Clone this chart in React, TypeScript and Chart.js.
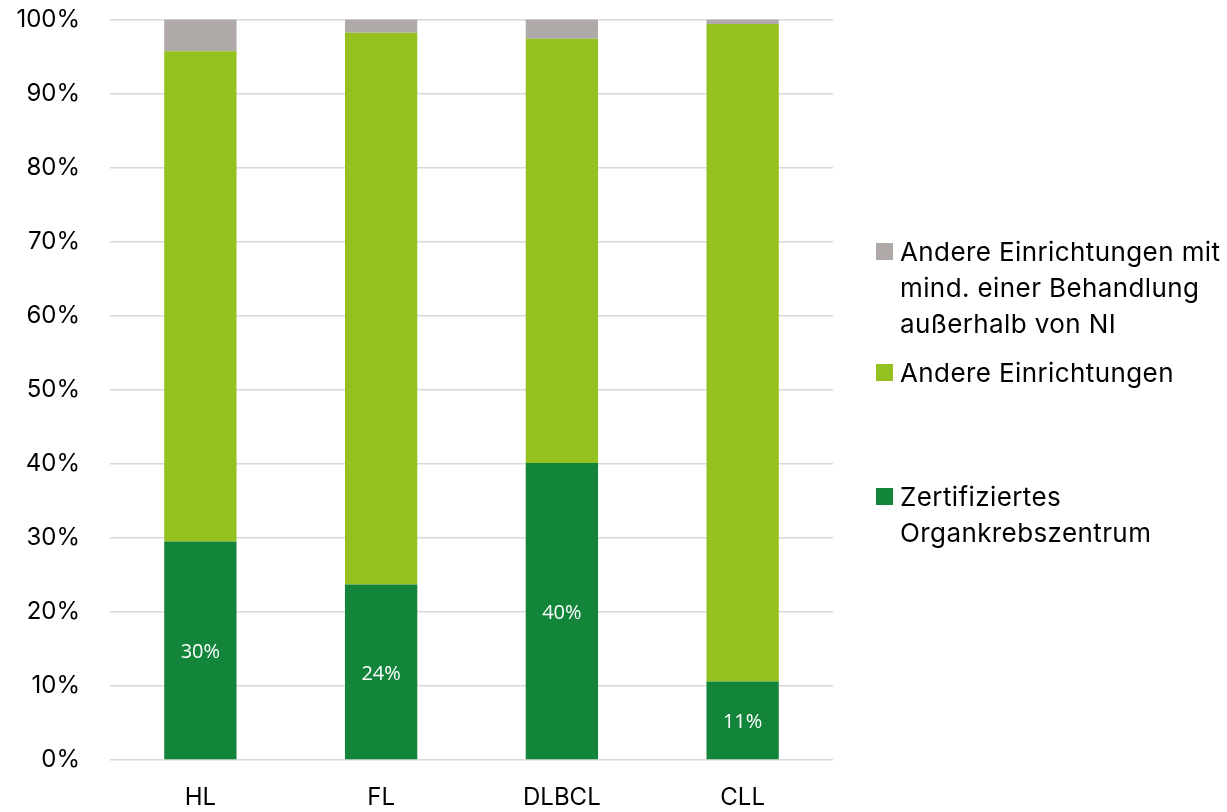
import React, { useEffect, useRef } from "react";
import { Chart, registerables } from "chart.js";

Chart.register(...registerables);

const categories = ["HL", "FL", "DLBCL", "CLL"];
const zertifiziert = [29.5, 23.7, 40.1, 10.6];
const andere = [66.2, 74.5, 57.3, 88.8];
const ausserhalb = [4.3, 1.8, 2.6, 0.6];
const zertLabels = ["30%", "24%", "40%", "11%"];
const yTicks = [0, 10, 20, 30, 40, 50, 60, 70, 80, 90, 100];

const seriesNames = [
  "Zertifiziertes\nOrgankrebszentrum",
  "Andere Einrichtungen",
  "Andere Einrichtungen mit\nmind. einer Behandlung\naußerhalb von NI",
];
const seriesColors = ["#12853A", "#95C120", "#AFAAA8"];

const FONT = "Inter, 'Noto Sans', sans-serif";

const legendTops = [478.6, 355.3, 234.3];

export default function App() {
  const ref = useRef<HTMLCanvasElement | null>(null);

  useEffect(() => {
    if (!ref.current) return;
    const labelPlugin = {
      id: "zertLabels",
      afterDatasetsDraw(chart: any) {
        const meta = chart.getDatasetMeta(0);
        const ctx = chart.ctx;
        ctx.save();
        ctx.fillStyle = "#ffffff";
        ctx.font = "20px 'Open Sans', sans-serif";
        ctx.textAlign = "center";
        ctx.textBaseline = "middle";
        meta.data.forEach((el: any, i: number) => {
          const p = el.getProps(["x", "y", "base"], true);
          ctx.fillText(zertLabels[i], p.x, (p.y + p.base) / 2 + 2);
        });
        ctx.restore();
      },
    };
    const values = [zertifiziert, andere, ausserhalb];
    const chart = new Chart(ref.current, {
      type: "bar",
      data: {
        labels: categories,
        datasets: values.map((v, i) => ({
          label: seriesNames[i],
          data: v,
          backgroundColor: seriesColors[i],
          borderWidth: 0,
          barPercentage: 0.8,
          categoryPercentage: 0.5,
        })),
      },
      options: {
        responsive: false,
        maintainAspectRatio: false,
        animation: false,
        layout: { padding: { top: 19.5, right: 394, left: 0, bottom: 0 } },
        plugins: { legend: { display: false }, tooltip: { enabled: false } },
        scales: {
          x: {
            stacked: true,
            grid: { display: false, drawTicks: false },
            border: { display: false },
            ticks: { color: "#000", font: { family: FONT, size: 24 }, padding: 23 },
            afterFit: (s: any) => {
              s.height = 52;
              s.paddingTop = 0;
              s.paddingBottom = 0;
            },
          },
          y: {
            stacked: true,
            min: 0,
            max: 100,
            afterBuildTicks: (s: any) => {
              s.ticks = yTicks.map((v) => ({ value: v }));
            },
            grid: { color: "#D9D9D9", lineWidth: 1.5, drawTicks: false },
            border: { display: false },
            ticks: {
              color: "#000",
              font: { family: FONT, size: 24 },
              padding: 30,
              callback: (v: any) => v + "%",
            },
            afterFit: (s: any) => {
              s.width = 110;
              s.paddingTop = 0;
              s.paddingBottom = 0;
            },
          },
        },
      },
      plugins: [labelPlugin],
    });
    return () => chart.destroy();
  }, []);

  const order = [2, 1, 0];
  return (
    <div style={{ position: "absolute", left: 0, top: 0, width: 1227, height: 812, background: "#fff" }}>
      <canvas ref={ref} width={1227} height={812} style={{ position: "absolute", left: 0, top: 0, width: 1227, height: 812 }} />
      {order.map((i) => (
        <div
          key={i}
          style={{
            position: "absolute",
            left: 876,
            top: legendTops[i],
            display: "flex",
            alignItems: "flex-start",
            fontFamily: FONT,
            fontSize: 26,
            lineHeight: "36px",
            letterSpacing: "0.4px",
            color: "#000",
          }}
        >
          <div style={{ width: 17, height: 17, background: seriesColors[i], marginTop: 9, marginRight: 7, flex: "none" }} />
          <div style={{ whiteSpace: "pre" }}>{seriesNames[i]}</div>
        </div>
      ))}
    </div>
  );
}
